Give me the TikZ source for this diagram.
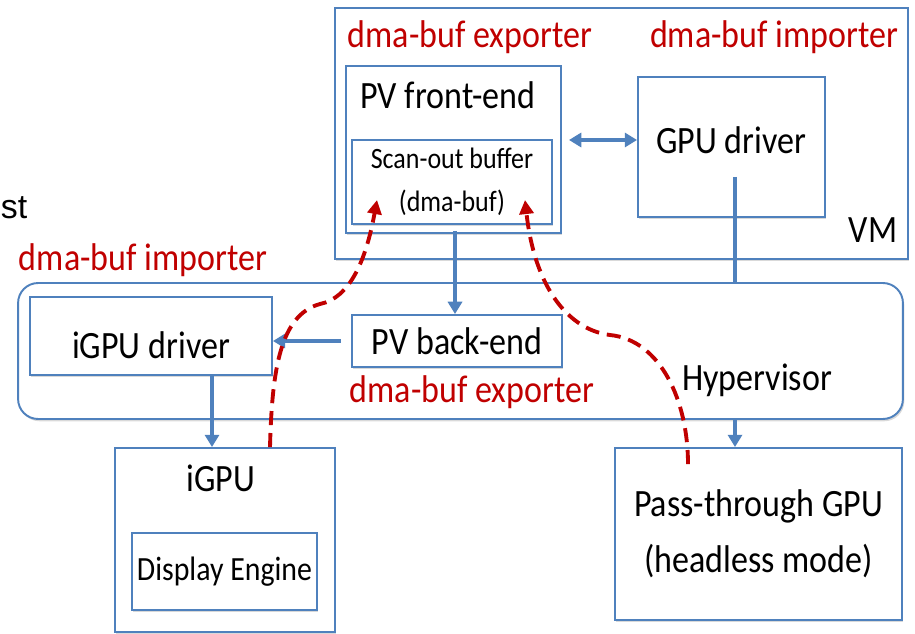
\documentclass[tikz,border=0pt]{standalone}
\usepackage{fontspec}
\setmainfont{Carlito}[FakeStretch=0.88]
\newfontfamily\hostfont{Liberation Sans}
\usepackage{xcolor}
\usepackage{tikz}
\usetikzlibrary{arrows.meta,shadows}
\definecolor{linkblue}{RGB}{79,129,189}
\definecolor{tagred}{RGB}{192,0,0}

\begin{document}
\begin{tikzpicture}[x=0.02cm, y=-0.02cm,
  box/.style={draw=linkblue, line width=1.1pt, fill=white, inner sep=0pt,
              drop shadow={shadow xshift=0.8pt, shadow yshift=-1.3pt, opacity=0.3}},
  big/.style={font=\fontsize{22}{26}\selectfont, inner sep=0pt},
  tag/.style={font=\fontsize{22}{26}\selectfont, text=tagred, inner sep=0pt},
  flow/.style={linkblue, line width=2pt, -{Triangle[length=7pt, width=8pt]}},
  share/.style={tagred, line width=2.2pt, dash pattern=on 8pt off 4.5pt,
                -{Triangle[length=8pt, width=8pt]}}
]
\useasboundingbox (0,0) rectangle (915,634);
% VM side
\node[box, minimum width=11.46cm, minimum height=5.02cm] (vm) at (621.5,133.5) {};
\node[big] (vm-txt) at (873,230) {VM};
\node[tag] (exp-top) at (470,37) {dma-buf exporter};
\node[tag] (imp-top) at (774,37) {dma-buf importer};
\node[box, minimum width=4.3cm, minimum height=3.34cm] (fe) at (453.5,149.5) {};
\node[big] (fe-txt) at (448,95) {PV front-end};
\node[box, minimum width=4cm, minimum height=1.68cm, align=center,
      font=\fontsize{16.8}{24.4}\selectfont] (sb) at (452,182) {Scan-out buffer\\(dma-buf)};
\node[box, minimum width=3.74cm, minimum height=2.8cm] (gd) at (731.5,147) {};
\node[big] (gd-txt) at (731,140) {GPU driver};
% Host side
\node[big, font=\hostfont\fontsize{19.3}{23}\selectfont] (host) at (14,208) {st};
\node[tag] (imp-host) at (143,260) {dma-buf importer};
\node[box, rounded corners=0.4cm, minimum width=17.7cm, minimum height=2.72cm] (hv) at (460.5,351) {};
\node[big] (hv-txt) at (757,380) {Hypervisor};
\node[box, minimum width=4.84cm, minimum height=1.56cm] (drv) at (151,336) {};
\node[big] (drv-txt) at (151,345) {iGPU driver};
\node[box, big, minimum width=4.2cm, minimum height=1.04cm] (be) at (457,341) {PV back-end};
\node[tag] (exp-host) at (472,392) {dma-buf exporter};
% GPUs
\node[box, minimum width=4.4cm, minimum height=3.68cm] (igpu) at (225,540) {};
\node[big] (igpu-txt) at (221,478) {iGPU};
\node[box, minimum width=3.7cm, minimum height=1.54cm,
      font=\fontsize{19.3}{22}\selectfont] (de) at (224.5,571.5) {Display Engine};
\node[box, minimum width=5.74cm, minimum height=3.44cm, align=center,
      font=\fontsize{22}{32}\selectfont] (pt) at (758.5,534) {Pass-through GPU\\(headless mode)};
% Control links
\coordinate (gd-tail) at (735,177);
\coordinate (dbl) at (569,140);
\draw[flow, {Triangle[length=7pt, width=8pt]}-{Triangle[length=7pt, width=8pt]}]
  (dbl) -- (gd.west |- dbl);
\draw[flow] (fe.south -| 455,0) ++(0,-3) -- (be.north -| 455,0);
\draw[flow] ([xshift=-6pt]be.west) -- (drv.east |- be.west);
\draw[flow] (drv.south -| 212,0) -- (igpu.north -| 212,0);
\draw[linkblue, line width=2pt] (gd-tail) -- (gd-tail |- hv.north);
\draw[flow] (gd-tail |- hv.south) -- (gd-tail |- pt.north);
% Buffer sharing
\draw[share] (igpu.north -| 270,0) .. controls (272,370) and (280,315) .. (320,304)
  .. controls (350,298) and (366,260) .. (377,200);
\draw[share] (pt.north -| 688,0) ++(0,17) .. controls (688,400) and (660,340) .. (610,335)
  .. controls (570,330) and (535,290) .. (525,200);
\end{tikzpicture}
\end{document}
